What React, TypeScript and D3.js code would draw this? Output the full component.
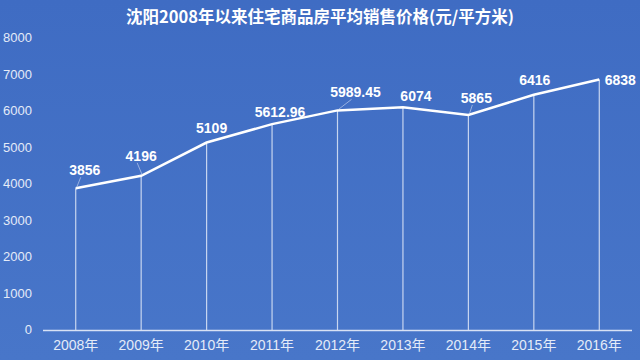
import React from "react";
import * as d3 from "d3";

const years = ["2008年", "2009年", "2010年", "2011年", "2012年", "2013年", "2014年", "2015年", "2016年"];
const prices = [3856, 4196, 5109, 5612.96, 5989.45, 6074, 5865, 6416, 6838];
const priceLabels = ["3856", "4196", "5109", "5612.96", "5989.45", "6074", "5865", "6416", "6838"];
const yTicks = [0, 1000, 2000, 3000, 4000, 5000, 6000, 7000, 8000];
const title = "沈阳2008年以来住宅商品房平均销售价格(元/平方米)";

// label placement offsets (style, not data)
const labelDx = [9, 0, 5, 8, 18, 13, 8, 1, 21];
const labelDy = [-13, -15, -10, -7, -13, -6, -12, -10, 6];
const leader = [true, true, false, false, true, false, true, false, false];

const W = 640, H = 360;
const left = 43, right = 632, top = 37, bottom = 329;
const FONT = "'Liberation Sans', 'Noto Sans CJK SC', Arial, sans-serif";

export default function App() {
  const x = d3.scaleBand<string>().domain(years).range([left, right]).padding(0);
  const y = d3.scaleLinear().domain([0, 8000]).range([bottom, top]);
  const cx = (i: number) => (x(years[i]) as number) + x.bandwidth() / 2;
  const line = d3.line<number>().x((_, i) => cx(i)).y((d) => y(d));

  return (
    <svg width={W} height={H} style={{ position: "absolute", left: 0, top: 0, display: "block" }} fontFamily={FONT}>
      <defs>
        <linearGradient id="bg" x1="0" y1="0" x2="0" y2="1">
          <stop offset="0" stopColor="#3f6cc3" />
          <stop offset="1" stopColor="#4876c9" />
        </linearGradient>
      </defs>
      <rect width={W} height={H} fill="url(#bg)" />
      <text x={320} y={23} textAnchor="middle" fill="#ffffff" fontSize={16.5} fontWeight="bold"
        fontFamily="'Noto Sans CJK SC', sans-serif">{title}</text>
      {yTicks.map((t) => (
        <text key={t} x={32} y={y(t) + 5} textAnchor="end" fill="#e4ebf8" fontSize={13}>{t}</text>
      ))}
      {prices.map((p, i) => (
        <line key={"v" + i} x1={cx(i)} x2={cx(i)} y1={y(p)} y2={bottom + 1} stroke="#dfe7f7" strokeWidth={1.2} opacity={0.85} />
      ))}
      <line x1={left} x2={right} y1={bottom + 1.5} y2={bottom + 1.5} stroke="#d8e2f5" strokeWidth={1.5} />
      <path d={line(prices) || ""} fill="none" stroke="#ffffff" strokeWidth={2.5} />
      {prices.map((p, i) =>
        leader[i] ? (
          <line key={"l" + i} x1={cx(i) + 1} y1={y(p) - 1} x2={cx(i) + labelDx[i] - 4} y2={y(p) + labelDy[i] + 2}
            stroke="#c9d6f0" strokeWidth={0.8} opacity={0.8} />
        ) : null
      )}
      {prices.map((p, i) => (
        <text key={"t" + i} x={cx(i) + labelDx[i]} y={y(p) + labelDy[i]} textAnchor="middle" fill="#ffffff"
          fontSize={14} fontWeight="bold">{priceLabels[i]}</text>
      ))}
      {years.map((yr, i) => (
        <text key={yr} x={cx(i)} y={350} textAnchor="middle" fill="#e4ebf8" fontSize={14}
          fontFamily="'Liberation Sans', 'Noto Sans CJK SC', sans-serif">{yr}</text>
      ))}
    </svg>
  );
}
